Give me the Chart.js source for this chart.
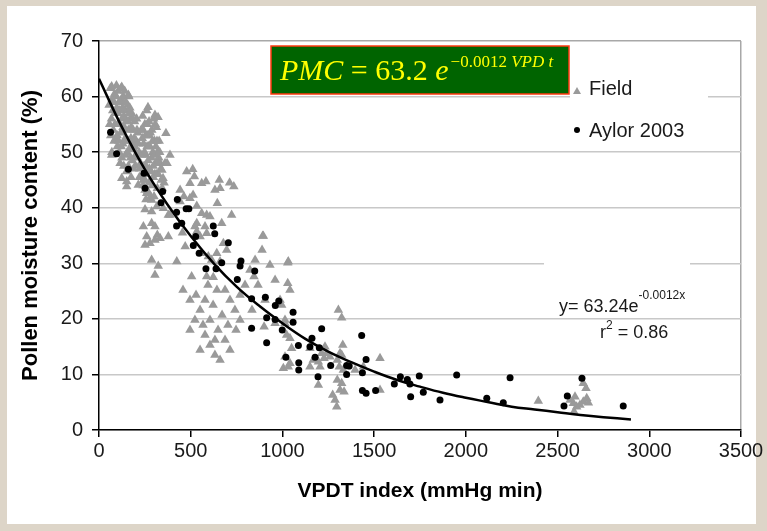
<!DOCTYPE html>
<html>
<head>
<meta charset="utf-8">
<script src="https://cdn.jsdelivr.net/npm/chart.js@4.4.1/dist/chart.umd.min.js"></script>
<style>
html,body{margin:0;padding:0;background:#ddd5c8;}
#wrap{position:absolute;left:0;top:0;width:767px;height:531px;}
</style>
</head>
<body>
<div id="wrap"><canvas id="c" width="767" height="531"></canvas></div>
<script>
// ---------- DATA ----------
const fieldX = [55,62,68,72,78,85,88,92,97,102,105,110,112,118,122,126,130,133,138,142,145,148,152,156,160,163,166,170,174,178,182,186,190,194,198,203,208,212,218,222,115,125,135,150,160,175,188,100,82,70,120,140,95,108,168,180,196,205,
58,64,75,80,87,93,99,104,107,113,116,121,128,131,136,143,146,154,157,162,165,172,176,184,192,200,207,215,220,226,
69,124,160,69,124,151,151,214,242,251,
230,238,243,250,255,260,264,268,273,278,283,288,293,298,303,308,313,318,323,328,334,340,246,258,272,290,304,318,234,250,265,282,296,310,326,262,276,
236,241,248,253,257,263,270,275,280,286,292,297,301,307,312,316,321,331,337,345,355,360,240,256,
267,305,322,365,387,371,343,349,
478,511,520,496,560,583,656,660,632,645,587,533,
442,463,496,442,513,
260,287,300,315,351,378,287,251,
242,260,287,305,318,278,251,305,333,378,387,
560,605,533,523,578,587,551,533,
723,669,678,696,642,596,560,614,660,
892,1032,287,323,424,305,505,587,623,712,735,455,470,
458,496,529,551,578,605,622,649,671,687,703,578,605,632,660,551,496,523,714,741,769,747,714,643,594,687,796,769,567,632,
823,851,889,932,867,960,987,905,1014,1041,834,
896,1029,1029,845,996,900,960,1014,1023,1041,1014,1041,1005,1032,1050,1150,1168,1150,1196,1214,1232,1205,
1196,1305,1323,1329,1314,1323,1299,1310,1332,1299,1323,1314,1274,1287,1296,1336,1350,1396,1441,1532,1532,1241,1259,1227,
2395,2640,2655,2595,2586,2604,2640,2659,2668,2590,2568,2622];
const fieldY = [58.5,61.5,56,59.5,54,60.5,57,52.5,58,55,61,50,57.5,53.5,59.5,56,51.5,60,54.5,57.5,49.5,55.5,52,58.5,54,60,50.5,56,52.5,57,48.5,54,50.5,55.5,47.5,52,49,53.5,50,47,48,49,47.5,46.5,47.5,45.5,47,51,52,50,61.5,61,62,59,58,51.5,51,56,
55,53,57.5,59,55,60,53,57,52,55,59,51,58,54.5,56.5,52.5,59,50,55.5,52,57,49,54.5,56,52.5,49.5,54,51.5,45.5,48,
61.8,61.7,60.3,49.5,45.3,44.7,43.8,44.1,45,43.2,
54,56.5,51.5,55,49.5,57.5,53,48.5,55.5,51,46.5,54,50,56,52,48,54.5,50,46,52,48,45,47.5,46,44.5,44,46,43.5,49.5,45,43,42,47.5,51,49,51,53,
52.5,54,50,53,47.5,55,51,47,53.5,49,52,45.5,49.5,55,46,52,48,50,47,43.5,44.5,48,44,41.5,
58.1,56.7,56.3,53.4,49.5,48,46.8,45.3,
46.5,46.9,45.6,44.4,44.4,44.7,45,43.5,43.2,40.8,38.7,40.3,
43.2,42,41.7,41.1,42.3,
42.6,41.4,42,40.2,39.9,38.7,39.3,39.7,
36.6,34.8,37.2,36.6,35.1,33.6,33.3,34.2,34.5,34.8,38.7,
39,38.4,37.2,36.6,36.6,35.4,34.8,35.7,
38.7,37.2,33.6,32.4,31.8,31.2,31.8,30.6,30.3,
34.9,30.3,30.6,29.5,30.3,27.9,27.6,27.6,27.5,44.5,43.8,35.5,33,
25.2,23.4,24.3,21.6,23.4,19.8,22.5,18,20.7,16.2,18.9,17.1,15.3,13.5,12.6,14.4,18,19.8,23.4,21.6,24.3,18,14.4,25.2,26.1,25.2,26.1,19.8,18.9,16.2,
28.8,30.6,32.4,29.7,26.1,27,23.4,23.4,19.8,25.2,21.6,
34.9,30.1,26.4,27.6,22.5,18.6,19.2,19.2,17.1,16.5,13.2,12,11.1,11.4,14.7,14.7,12.6,11.4,12.3,13.8,15,11.4,
8.1,21.6,20.2,15.3,13.8,13.5,12.6,11.4,10.8,9,8.4,7.2,6.3,5.4,4.2,6.9,11.4,10.8,11.4,12.9,7.2,13.8,13.2,12.9,
5.2,8.4,7.5,6,4.8,4.2,5.1,5.7,4.9,3.3,5.4,4.5];

const aylorX = [63,96,160,245,251,347,338,427,423,475,490,423,451,623,631,527,705,514,546,669,774,769,583,638,849,754,
907,832,961,980,914,832,960,1058,1058,999,914,1214,1161,1150,1201,1087,1019,1178,1089,1089,1263,1350,1364,1432,1456,1350,1194,1436,1436,1456,1508,1610,1643,1681,1695,1746,1699,1768,1859,1950,2114,2204,2241,2633,2553,2535,2858];
const aylorY = [53.6,49.7,46.9,46.2,43.5,42.9,40.9,41.5,39.2,39.8,39.8,36.7,37.2,36.7,35.3,34.8,33.7,33.2,31.8,30.1,30.4,29.5,29,29,28.6,27.1,
23.9,23.6,22.4,23.2,20.2,18.3,19.9,21.2,19.4,18,15.7,18.2,16.5,15,14.8,15.2,13.1,13.1,12.1,10.8,11.6,11.6,11.5,17,12.7,10,9.6,10.3,7.1,6.6,7.1,8.3,9.6,9.1,8.3,9.7,6,6.8,5.4,9.9,5.7,4.9,9.4,9.3,6.1,4.3,4.3];

// fitted curve
const trendX = [0,125,250,375,500,625,750,875,1000,1125,1250,1375,1500,1625,1750,1875,2000,2125,2250,2375,2500,2625,2750,2900];
const trendY = [63.2,54.5,46.9,40.5,34.9,30.0,25.8,22.3,19.2,16.4,14.1,12.2,10.5,9.0,7.8,6.7,5.8,5.0,4.2,3.7,3.2,2.7,2.3,1.9];

const seriesNames = ['Field','Aylor 2003'];
const xTitle = 'VPDT index (mmHg min)';
const yTitle = 'Pollen moisture content (%)';
const eqLabel = ['y= 63.24e', '-0.0012x', 'r', '2', ' = 0.86'];

// ---------- BUILD ----------
const toPts = (xs, ys) => xs.map((x, i) => ({x, y: ys[i]}));
const SANS = '"Liberation Sans", Arial, sans-serif';
const SERIF = '"Liberation Serif", "Times New Roman", serif';

const decor = {
  id: 'decor',
  beforeDraw(chart) {
    const c = chart.ctx;
    c.save();
    c.fillStyle = '#ddd5c8';
    c.fillRect(0, 0, chart.width, chart.height);
    c.fillStyle = '#ffffff';
    c.fillRect(7, 6, 749, 518);
    c.restore();
  },
  beforeDatasetsDraw(chart) {
    const c = chart.ctx;
    c.save();
    c.fillStyle = '#ffffff';
    c.fillRect(544, 255, 146, 26);
    c.restore();
  },
  afterDraw(chart) {
    const c = chart.ctx;
    c.save();
    // legend box
    c.fillStyle = '#ffffff';
    c.fillRect(570, 58, 138, 88);
    c.fillStyle = '#9a9a9a';
    c.beginPath();
    c.moveTo(577, 87); c.lineTo(581, 94); c.lineTo(573, 94); c.closePath(); c.fill();
    c.fillStyle = '#000';
    c.beginPath(); c.arc(577, 130, 3, 0, Math.PI * 2); c.fill();
    c.fillStyle = '#1a1a1a';
    c.font = '20px ' + SANS;
    c.textBaseline = 'middle';
    c.fillText(seriesNames[0], 589, 89);
    c.fillText(seriesNames[1], 589, 131);

    // equation box
    c.fillStyle = '#006400';
    c.fillRect(271, 46, 298, 48);
    c.strokeStyle = '#ff3a10';
    c.lineWidth = 1.5;
    c.strokeRect(271, 46, 298, 48);
    c.fillStyle = '#ffff00';
    c.textBaseline = 'alphabetic';
    let x = 280; let base2 = 80;
    const seg = (t, f) => { c.font = f; c.fillText(t, x, base2); x += c.measureText(t).width; };
    seg('PMC', 'italic 30px ' + SERIF);
    seg(' = 63.2 ', '30px ' + SERIF);
    seg('e', 'italic 30px ' + SERIF);
    base2 = 67; x += 2;
    seg('\u22120.0012 ', '17px ' + SERIF);
    seg('VPD t', 'italic 17px ' + SERIF);

    // trend label
    c.fillStyle = '#1a1a1a';
    c.font = '18px ' + SANS;
    let tx = 559;
    c.fillText(eqLabel[0], tx, 312);
    tx += c.measureText(eqLabel[0]).width;
    c.font = '12px ' + SANS;
    c.fillText(eqLabel[1], tx, 299);
    c.font = '18px ' + SANS;
    let rx = 600;
    c.fillText(eqLabel[2], rx, 338);
    rx += c.measureText(eqLabel[2]).width;
    c.font = '12px ' + SANS;
    c.fillText(eqLabel[3], rx, 329);
    rx += c.measureText(eqLabel[3]).width;
    c.font = '18px ' + SANS;
    c.fillText(eqLabel[4], rx, 338);
    c.restore();
  }
};

new Chart(document.getElementById('c'), {
  type: 'scatter',
  data: {
    datasets: [
      { label: 'trend', type: 'line', data: toPts(trendX, trendY), borderColor: '#000', borderWidth: 2.5,
        pointRadius: 0, tension: 0.4, fill: false, order: 0 },
      { label: seriesNames[1], data: toPts(aylorX, aylorY), pointStyle: 'circle', pointRadius: 3.5,
        backgroundColor: '#000', borderColor: '#000', borderWidth: 0, order: 1 },
      { label: seriesNames[0], data: toPts(fieldX, fieldY), pointStyle: 'triangle', pointRadius: 5.5,
        backgroundColor: '#9a9a9a', borderColor: '#9a9a9a', borderWidth: 0, order: 2 }
    ]
  },
  options: {
    responsive: false,
    animation: false,
    events: [],
    layout: { padding: { left: 0, top: 41, right: 26, bottom: 0 } },
    plugins: { legend: { display: false }, tooltip: { enabled: false } },
    scales: {
      x: {
        type: 'linear', min: 0, max: 3500,
        ticks: { stepSize: 500, color: '#1a1a1a', font: { family: SANS, size: 20 }, padding: 2, maxRotation: 0,
                 callback: (v) => String(v) },
        grid: { color: (ctx) => ctx.index === 7 ? '#a8a8a8' : 'rgba(0,0,0,0)', tickColor: '#000', tickLength: 7, lineWidth: 1.5 },
        border: { color: '#000', width: 1.5 },
        title: { display: true, text: xTitle, color: '#000', font: { family: SANS, size: 21, weight: 'bold' }, padding: { top: 0, bottom: 27 } },
        afterFit: (s) => { s.height = 101; }
      },
      y: {
        type: 'linear', min: 0, max: 70,
        ticks: { stepSize: 10, color: '#1a1a1a', font: { family: SANS, size: 20 }, padding: 9, callback: (v) => String(v) },
        grid: { color: (ctx) => ctx.tick.value === 70 ? '#a8a8a8' : '#c8c8c8', tickColor: '#000', tickLength: 7, lineWidth: 1.5 },
        border: { color: '#000', width: 1.5 },
        title: { display: true, text: yTitle, color: '#000', font: { family: SANS, size: 22, weight: 'bold' }, padding: { top: 18, bottom: 0 } },
        afterFit: (s) => { s.width = 99; }
      }
    }
  },
  plugins: [decor]
});
</script>
</body>
</html>
